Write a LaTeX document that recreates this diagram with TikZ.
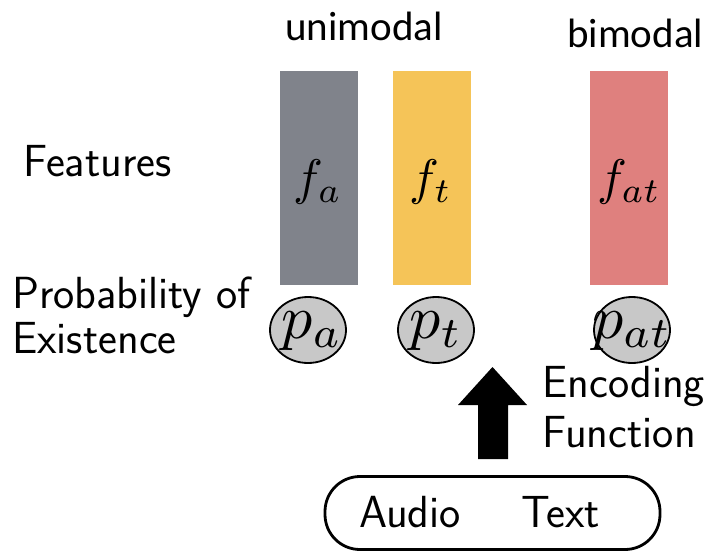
\documentclass[tikz,border=0pt]{standalone}
\usepackage{fontspec}
\newfontfamily\calib{Carlito}
\usetikzlibrary{shapes.geometric}
\definecolor{featgray}{RGB}{128,131,139}
\definecolor{featyellow}{RGB}{245,196,88}
\definecolor{featred}{RGB}{223,128,126}
\definecolor{probfill}{RGB}{200,200,200}
\tikzset{
  lbl/.style={anchor=base west,inner sep=0pt,font=\sffamily\fontsize{45}{50}\selectfont},
  toplbl/.style={anchor=base west,inner sep=0pt,font=\calib\fontsize{41}{45}\selectfont},
  feat/.style={rectangle,minimum width=78pt,minimum height=214pt,inner sep=0pt,draw=none},
  flab/.style={inner sep=0pt,scale=5},
  prob/.style={ellipse,draw=black,line width=1.8pt,fill=probfill,minimum width=76pt,minimum height=66pt,inner sep=0pt},
  plab/.style={inner sep=0pt,scale=6.2},
  inbox/.style={rectangle,draw=black,line width=2.8pt,rounded corners=35pt,minimum width=335pt,minimum height=73pt,inner sep=0pt}
}
\begin{document}
\begin{tikzpicture}[x=1pt,y=-1pt]
\useasboundingbox (0,0) rectangle (712,552);
% top labels
\node[toplbl] (uni) at (285,40) {unimodal};
\node[toplbl] (bi) at (567,47) {bimodal};
% left labels
\node[lbl] (feats) at (23,176) {Features};
\node[lbl] (prob1) at (12,308) {Probability of};
\node[lbl] (prob2) at (12,353) {Existence};
% feature bars
\node[feat,fill=featgray] (fa) at (319,178) {};
\node[feat,fill=featyellow] (ft) at (432,178) {};
\node[feat,fill=featred] (fat) at (629,178) {};
\node[flab] (fal) at (318,182) {$f_a$};
\node[flab] (ftl) at (431,182) {$f_t$};
\node[flab] (fatl) at (629,182) {$f_{at}$};
% probability ellipses
\node[prob] (pa) at (308,330) {};
\node[prob] (pt) at (436,330) {};
\node[prob] (pat) at (632,330) {};
\node[plab] (pal) at (312,331) {$p_a$};
\node[plab] (ptl) at (436,331) {$p_t$};
\node[plab] (patl) at (632,331) {$p_{at}$};
% encoding arrow
\fill[black] (478,459) -- (508,459) -- (508,405) -- (527,405) -- (492.5,367) -- (458,405) -- (478,405) -- cycle;
\node[lbl] (enc1) at (542,397) {Encoding};
\node[lbl] (enc2) at (542,447) {Function};
% input box
\node[inbox] (input) at (492.5,513) {};
\node[lbl] (audio) at (359,527) {Audio};
\node[lbl] (text) at (521,527) {Text};
\end{tikzpicture}
\end{document}
